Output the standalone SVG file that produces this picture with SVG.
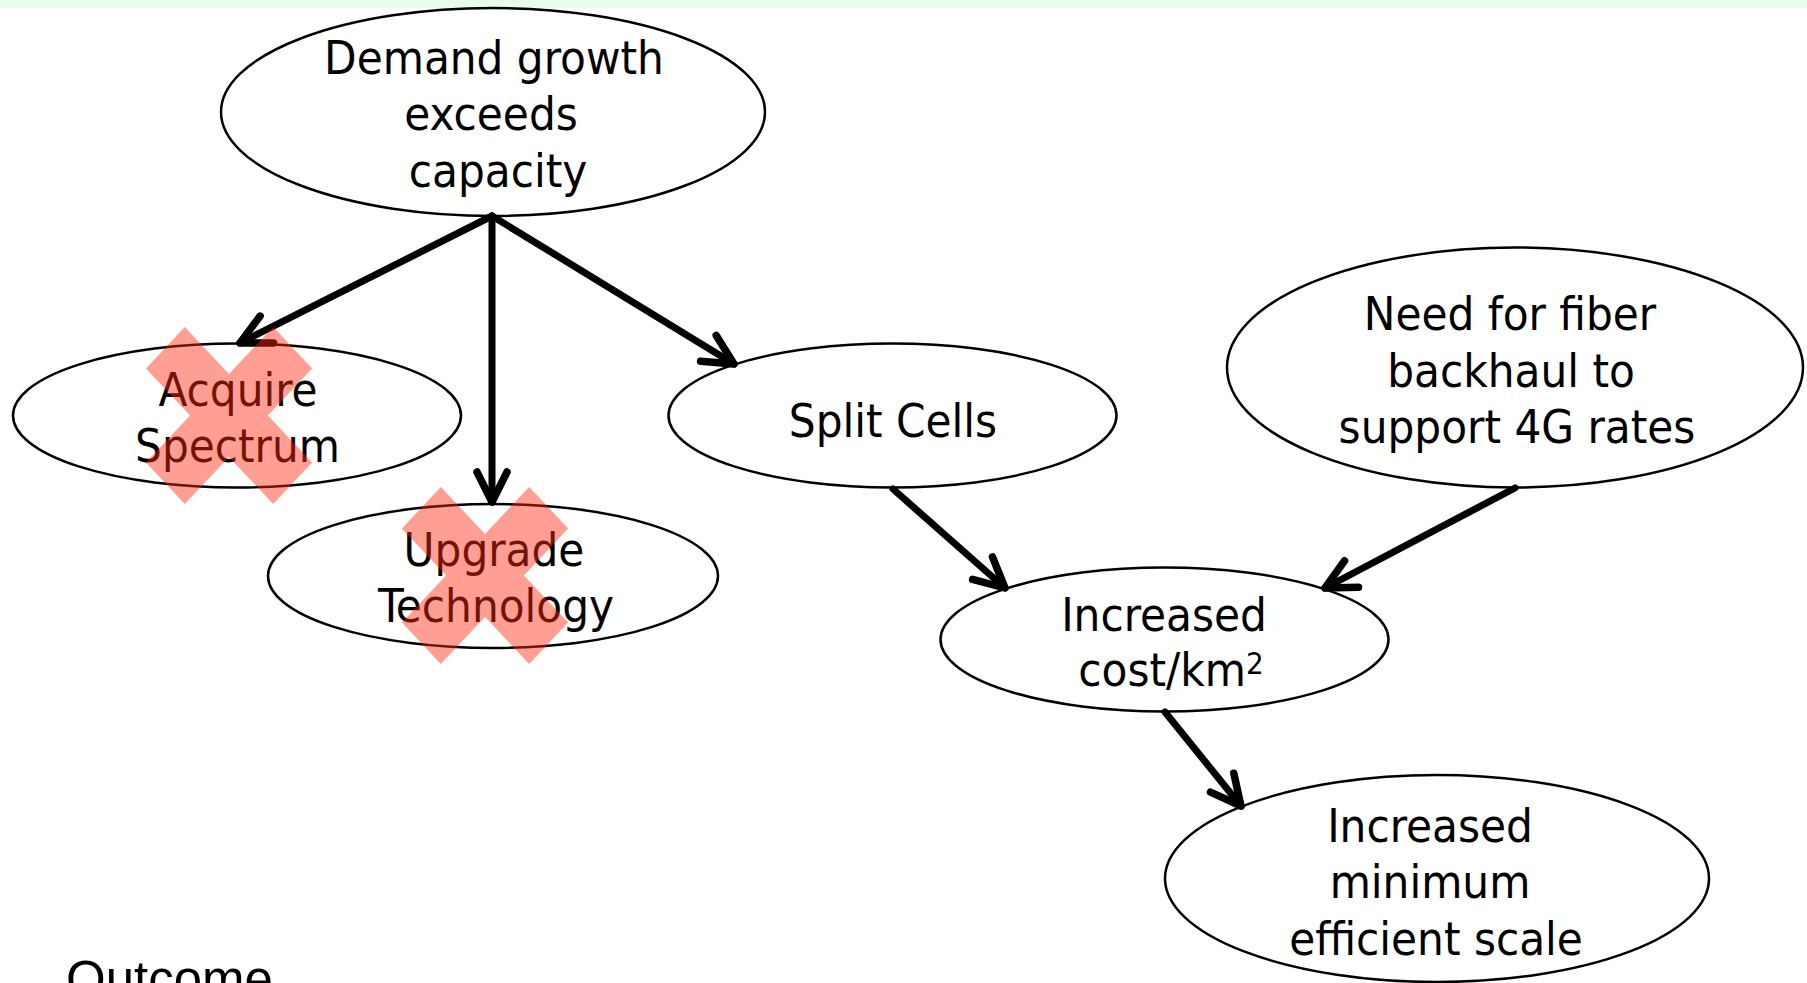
<svg xmlns="http://www.w3.org/2000/svg" width="1807" height="983" viewBox="0 0 1807 983">
<style>
.node ellipse{fill:#ffffff;stroke:#000000;stroke-width:2.5}
.node text{font-family:"DejaVu Sans Condensed","Liberation Sans",sans-serif;font-size:47px;fill:#000000;text-anchor:middle}
.conn line{stroke:#000000;stroke-width:7;stroke-linecap:round}
.cross{fill:#ff2a10;opacity:0.45}
</style>
<defs>
<marker id="arrow" markerUnits="userSpaceOnUse" markerWidth="70" markerHeight="70" refX="35" refY="35" orient="auto" viewBox="0 0 70 70">
<path d="M5,20 L35,35 L5,50" fill="none" stroke="#000000" stroke-width="7.5" stroke-linecap="round" stroke-linejoin="round"/>
</marker>
</defs>
<rect x="0" y="0" width="1807" height="8" fill="#e9fce9"/>

<g id="node-demand" class="node">
<ellipse cx="493" cy="112" rx="272" ry="104"/>
<text x="494" y="74">Demand growth</text>
<text x="491" y="130">exceeds</text>
<text x="498" y="187">capacity</text>
</g>
<g id="node-acquire" class="node">
<ellipse cx="237" cy="415.5" rx="224" ry="72"/>
<text x="238" y="406">Acquire</text>
<text x="237.5" y="462">Spectrum</text>
</g>
<g id="node-upgrade" class="node">
<ellipse cx="493" cy="576" rx="225" ry="72"/>
<text x="494" y="566">Upgrade</text>
<text x="496" y="622">Technology</text>
</g>
<g id="node-split" class="node">
<ellipse cx="892.5" cy="415.5" rx="224" ry="72"/>
<text x="893" y="437">Split Cells</text>
</g>
<g id="node-fiber" class="node">
<ellipse cx="1515" cy="367.5" rx="288" ry="120"/>
<text x="1510" y="330">Need for fiber</text>
<text x="1511" y="386.5">backhaul to</text>
<text x="1517" y="443">support 4G rates</text>
</g>
<g id="node-cost" class="node">
<ellipse cx="1164.5" cy="639.5" rx="224" ry="72"/>
<text x="1164" y="631">Increased</text>
<text x="1171" y="686">cost/km<tspan font-size="31" dy="-12">2</tspan></text>
</g>
<g id="node-mes" class="node">
<ellipse cx="1437" cy="878.5" rx="272" ry="103.5"/>
<text x="1430" y="842">Increased</text>
<text x="1430" y="898">minimum</text>
<text x="1436" y="955">efficient scale</text>
</g>

<g id="connectors" class="conn">
<line x1="492" y1="216" x2="240" y2="343" marker-end="url(#arrow)"/>
<line x1="492" y1="216" x2="492" y2="502" marker-end="url(#arrow)"/>
<line x1="492" y1="216" x2="734" y2="364" marker-end="url(#arrow)"/>
<line x1="893" y1="489" x2="1005" y2="588" marker-end="url(#arrow)"/>
<line x1="1515" y1="488" x2="1325" y2="588" marker-end="url(#arrow)"/>
<line x1="1165" y1="712" x2="1241" y2="806" marker-end="url(#arrow)"/>
</g>

<g id="cross-acquire" class="cross" transform="translate(229,415.5) scale(1,1.066)">
<rect x="-90" y="-27.5" width="180" height="55" transform="rotate(45)"/>
<rect x="-90" y="-27.5" width="180" height="55" transform="rotate(-45)"/>
</g>
<g id="cross-upgrade" class="cross" transform="translate(485,575.5) scale(1,1.066)">
<rect x="-90" y="-27.5" width="180" height="55" transform="rotate(45)"/>
<rect x="-90" y="-27.5" width="180" height="55" transform="rotate(-45)"/>
</g>

<text x="66" y="997" font-family="Liberation Sans, Arial, sans-serif" font-size="51" fill="#000000">Outcome</text>
</svg>
